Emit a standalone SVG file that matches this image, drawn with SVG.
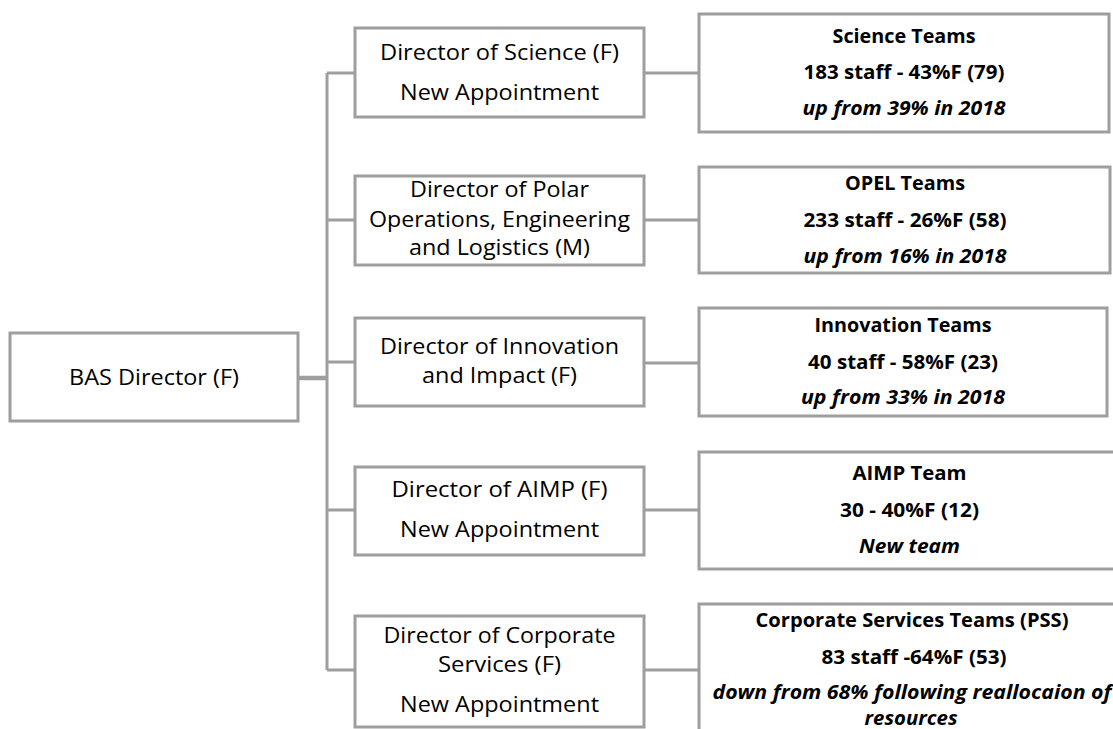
<svg xmlns="http://www.w3.org/2000/svg" width="1113" height="729" viewBox="0 0 1113 729">
  <style>
    .box { fill: #ffffff; stroke: #9e9e9e; stroke-width: 3; }
    .link { fill: none; stroke: #9e9e9e; stroke-width: 3; }
    .dir { font-family: "Open Sans", "Noto Sans", sans-serif; font-size: 22px; fill: #000000; text-anchor: middle; }
    .team { font-family: "Open Sans", "Noto Sans", sans-serif; font-size: 20px; font-weight: bold; fill: #000000; text-anchor: middle; }
    .note { font-style: italic; }
  </style>
  <rect width="1113" height="729" fill="#ffffff"/>

  <!-- connectors -->
  <g id="connectors">
    <path class="link" d="M298 378 H327" style="stroke-width:4.5"/>
    <path class="link" d="M327 73 V670"/>
    <path class="link" d="M327 73 H355 M327 220 H355 M327 362 H355 M327 510 H355 M327 670 H355"/>
    <path class="link" d="M644 73 H699 M644 220 H699 M644 363 H699 M644 510 H699 M644 670 H699"/>
  </g>

  <!-- head of organisation -->
  <g id="bas-director">
    <rect class="box" x="10" y="333" width="288" height="88"/>
    <text class="dir" x="154" y="385" textLength="170" lengthAdjust="spacingAndGlyphs">BAS Director (F)</text>
  </g>

  <!-- directors -->
  <g id="dir-science">
    <rect class="box" x="355" y="28" width="289" height="89"/>
    <text class="dir" x="499.5" y="60" textLength="239" lengthAdjust="spacingAndGlyphs">Director of Science (F)</text>
    <text class="dir" x="499.5" y="100" textLength="199" lengthAdjust="spacingAndGlyphs">New Appointment</text>
  </g>
  <g id="dir-opel">
    <rect class="box" x="355" y="176" width="289" height="89"/>
    <text class="dir" x="499.5" y="197" textLength="179" lengthAdjust="spacingAndGlyphs">Director of Polar</text>
    <text class="dir" x="499.5" y="227" textLength="261" lengthAdjust="spacingAndGlyphs">Operations, Engineering</text>
    <text class="dir" x="499.5" y="255" textLength="181" lengthAdjust="spacingAndGlyphs">and Logistics (M)</text>
  </g>
  <g id="dir-innovation">
    <rect class="box" x="355" y="318" width="289" height="88"/>
    <text class="dir" x="499.5" y="354" textLength="239" lengthAdjust="spacingAndGlyphs">Director of Innovation</text>
    <text class="dir" x="499.5" y="383" textLength="155" lengthAdjust="spacingAndGlyphs">and Impact (F)</text>
  </g>
  <g id="dir-aimp">
    <rect class="box" x="355" y="467" width="289" height="88"/>
    <text class="dir" x="499.5" y="497" textLength="216" lengthAdjust="spacingAndGlyphs">Director of AIMP (F)</text>
    <text class="dir" x="499.5" y="537" textLength="199" lengthAdjust="spacingAndGlyphs">New Appointment</text>
  </g>
  <g id="dir-corporate">
    <rect class="box" x="355" y="616" width="289" height="111"/>
    <text class="dir" x="499.5" y="643" textLength="232" lengthAdjust="spacingAndGlyphs">Director of Corporate</text>
    <text class="dir" x="499.5" y="672" textLength="123" lengthAdjust="spacingAndGlyphs">Services (F)</text>
    <text class="dir" x="499.5" y="712" textLength="199" lengthAdjust="spacingAndGlyphs">New Appointment</text>
  </g>

  <!-- teams -->
  <g id="team-science">
    <rect class="box" x="699" y="14" width="410" height="118"/>
    <text class="team" x="904" y="43" textLength="143" lengthAdjust="spacingAndGlyphs">Science Teams</text>
    <text class="team" x="904" y="79" textLength="201" lengthAdjust="spacingAndGlyphs">183 staff - 43%F (79)</text>
    <text class="team note" x="904" y="115" textLength="203" lengthAdjust="spacingAndGlyphs">up from 39% in 2018</text>
  </g>
  <g id="team-opel">
    <rect class="box" x="699" y="167" width="411" height="106"/>
    <text class="team" x="905" y="190" textLength="120" lengthAdjust="spacingAndGlyphs">OPEL Teams</text>
    <text class="team" x="905" y="227" textLength="203" lengthAdjust="spacingAndGlyphs">233 staff - 26%F (58)</text>
    <text class="team note" x="905" y="263" textLength="203" lengthAdjust="spacingAndGlyphs">up from 16% in 2018</text>
  </g>
  <g id="team-innovation">
    <rect class="box" x="699" y="308" width="408" height="108"/>
    <text class="team" x="903" y="332" textLength="177" lengthAdjust="spacingAndGlyphs">Innovation Teams</text>
    <text class="team" x="903" y="369" textLength="190" lengthAdjust="spacingAndGlyphs">40 staff - 58%F (23)</text>
    <text class="team note" x="903" y="404" textLength="204" lengthAdjust="spacingAndGlyphs">up from 33% in 2018</text>
  </g>
  <g id="team-aimp">
    <rect class="box" x="699" y="452" width="422" height="117"/>
    <text class="team" x="909.5" y="480" textLength="114" lengthAdjust="spacingAndGlyphs">AIMP Team</text>
    <text class="team" x="909.5" y="517" textLength="139" lengthAdjust="spacingAndGlyphs">30 - 40%F (12)</text>
    <text class="team note" x="909.5" y="553" textLength="101" lengthAdjust="spacingAndGlyphs">New team</text>
  </g>
  <g id="team-corporate">
    <rect class="box" x="699" y="604" width="426" height="140"/>
    <text class="team" x="912" y="627" textLength="313" lengthAdjust="spacingAndGlyphs">Corporate Services Teams (PSS)</text>
    <text class="team" x="914" y="664" textLength="185" lengthAdjust="spacingAndGlyphs">83 staff -64%F (53)</text>
    <text class="team note" x="912" y="699" textLength="399" lengthAdjust="spacingAndGlyphs">down from 68% following reallocaion of</text>
    <text class="team note" x="911" y="725" textLength="93" lengthAdjust="spacingAndGlyphs">resources</text>
  </g>
</svg>
